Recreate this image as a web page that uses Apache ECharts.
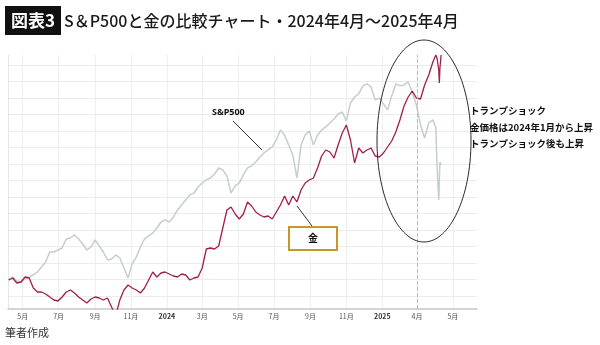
<!DOCTYPE html>
<html><head><meta charset="utf-8">
<script src="https://cdn.jsdelivr.net/npm/echarts@6/dist/echarts.min.js"></script>
<style>html,body{margin:0;padding:0;background:#fff}#c{width:600px;height:345px}</style>
</head><body><div id="c"></div>
<script>
const dates = [
'2023-04-07','2023-04-14','2023-04-21','2023-04-28','2023-05-05','2023-05-12','2023-05-19','2023-05-26','2023-06-02','2023-06-09',
'2023-06-16','2023-06-23','2023-06-30','2023-07-07','2023-07-14','2023-07-21','2023-07-28','2023-08-04','2023-08-11','2023-08-18',
'2023-08-25','2023-09-01','2023-09-08','2023-09-15','2023-09-22','2023-09-29','2023-10-06','2023-10-13','2023-10-20','2023-10-27',
'2023-11-03','2023-11-10','2023-11-17','2023-11-24','2023-12-01','2023-12-08','2023-12-15','2023-12-22','2023-12-29',
'2024-01-05','2024-01-12','2024-01-19','2024-01-26','2024-02-02','2024-02-09','2024-02-16','2024-02-23','2024-03-01','2024-03-08',
'2024-03-15','2024-03-22','2024-03-29','2024-04-05','2024-04-12','2024-04-19','2024-04-26','2024-05-03','2024-05-10','2024-05-17',
'2024-05-24','2024-05-31','2024-06-07','2024-06-14','2024-06-21','2024-06-28','2024-07-05','2024-07-12','2024-07-19','2024-07-26',
'2024-08-02','2024-08-09','2024-08-16','2024-08-23','2024-08-30','2024-09-06','2024-09-13','2024-09-20','2024-09-27','2024-10-04',
'2024-10-11','2024-10-18','2024-10-25','2024-11-01','2024-11-08','2024-11-15','2024-11-22','2024-11-29','2024-12-06','2024-12-13',
'2024-12-20','2024-12-27',
'2025-01-03','2025-01-10','2025-01-17','2025-01-24','2025-01-31','2025-02-07','2025-02-14','2025-02-21','2025-02-28','2025-03-07',
'2025-03-14','2025-03-21','2025-03-28','2025-04-02','2025-04-04','2025-04-07','2025-04-08','2025-04-09','2025-04-11'
];
const sp500 = [
4096,4126,4086,4075,4106,4126,4147,4177,4228,4279,
4381,4381,4402,4422,4514,4524,4555,4514,4463,4402,
4432,4504,4443,4381,4300,4310,4351,4320,4218,4116,
4259,4330,4432,4514,4545,4575,4626,4687,4708,4687,
4738,4810,4861,4912,4963,4983,5044,5085,5116,5136,
5177,5238,5218,5157,4983,5055,5085,5167,5238,5259,
5299,5350,5391,5422,5452,5524,5626,5575,5473,5371,
5136,5473,5575,5616,5473,5575,5626,5656,5697,5738,
5789,5809,5718,5901,5962,5993,6075,6095,6064,5932,
5952,5891,5830,5973,6095,6075,6085,6115,6013,5881,
5677,5544,5697,5728,5656,5269,4912,5116,5299,5269
];
const gold = [
1974,1986,1956,1962,1992,1986,1926,1902,1902,1890,
1872,1854,1848,1872,1902,1914,1896,1872,1854,1836,
1860,1872,1866,1854,1866,1812,1758,1854,1914,1944,
1926,1914,1896,1926,1974,2022,1992,2016,2022,2010,
1998,1992,2010,2004,1974,1986,1992,2046,2160,2166,
2160,2178,2286,2394,2412,2370,2340,2370,2442,2418,
2382,2364,2352,2358,2340,2382,2424,2478,2424,2478,
2442,2514,2556,2574,2586,2646,2718,2754,2742,2706,
2784,2856,2904,2814,2676,2766,2736,2754,2766,2718,
2712,2736,2772,2808,2862,2934,3018,3072,3108,3066,
3060,3144,3204,3282,3324,3306,3234,3156,3246,3324
];
const tickDates = ['2023-05-01','2023-07-01','2023-09-01','2023-11-01','2024-01-01','2024-03-01','2024-05-01','2024-07-01','2024-09-01','2024-11-01','2025-01-01','2025-03-01','2025-05-01'];
const tickLabels = ['5月','7月','9月','11月','2024','3月','5月','7月','9月','11月','2025','4月','5月'];
const markerDate = '2025-03-01';

function ts(s){const p=s.split('-').map(Number);return Date.UTC(p[0],p[1]-1,p[2]);}
const tickTs = tickDates.map(ts);
const spData = dates.map((d,i)=>[ts(d), sp500[i]]);
const goldData = dates.map((d,i)=>[ts(d), gold[i]]);
const JP = '"Noto Sans CJK JP","Noto Sans",sans-serif';

const chart = echarts.init(document.getElementById('c'), null, {renderer:'canvas'});
chart.setOption({
  animation:false,
  backgroundColor:'#fff',
  grid:[{left:8,right:123,top:55,bottom:36},{left:8,right:123,top:65,bottom:49}],
  xAxis:[
    {type:'value', gridIndex:0, min:ts('2023-04-06'), max:ts('2025-06-11'),
     axisLine:{onZero:false, lineStyle:{color:'#c6c6c6', width:1.5}},
     axisTick:{show:false, customValues:tickTs},
     axisLabel:{customValues:tickTs, fontSize:7, color:'#555', margin:4, fontFamily:JP,
       formatter:function(v){const i=tickTs.indexOf(+v); const l=i>=0?tickLabels[i]:''; return /^\d{4}$/.test(l)?'{b|'+l+'}':l;},
       rich:{b:{fontWeight:'bold',fontSize:7,color:'#333',fontFamily:JP}}},
     splitLine:{show:true, lineStyle:{color:'#efefef', width:1}}},
    {type:'value', gridIndex:1, min:0, max:1, show:false}
  ],
  yAxis:[
    {type:'value', gridIndex:0, min:3800, max:6390,
     axisLine:{show:true, lineStyle:{color:'#e6e6e6'}}, axisTick:{show:false}, axisLabel:{show:false}, splitLine:{show:false}},
    {type:'value', gridIndex:0, min:1800, max:3324, show:false},
    {type:'value', gridIndex:1, min:0, max:14, interval:1,
     axisLine:{show:false}, axisTick:{show:false}, axisLabel:{show:false},
     splitLine:{show:true, lineStyle:{color:'#ececec', width:1}}}
  ],
  series:[
    {type:'line', xAxisIndex:0, yAxisIndex:0, data:spData, symbol:'none', silent:true,
     lineStyle:{color:'#c6cecb', width:1.5},
     markLine:{silent:true, symbol:'none', label:{show:false},
       lineStyle:{type:'dashed', color:'#bdbdbd', width:1},
       data:[{xAxis:ts(markerDate)}]}},
    {type:'line', xAxisIndex:0, yAxisIndex:1, data:goldData, symbol:'none', silent:true,
     lineStyle:{color:'#a31e4b', width:1.3}}
  ],
  graphic:[
    {type:'rect', shape:{x:5,y:6,width:56,height:29}, style:{fill:'#111'}},
    {type:'text', x:33, y:21, style:{text:'図表3', fill:'#fff', font:'bold 17px '+JP, align:'center', verticalAlign:'middle'}},
    {type:'text', x:64, y:21, style:{text:'S＆P500と金の比較チャート・2024年4月～2025年4月', fill:'#1a1a1a', font:'500 16px '+JP, verticalAlign:'middle'}},
    {type:'ellipse', shape:{cx:424,cy:141,rx:47,ry:101}, style:{fill:'none', stroke:'#2a2a2a', lineWidth:1}, z:10},
    {type:'text', x:212, y:112, style:{text:'S&P500', fill:'#111', font:'bold 9px "Noto Sans",sans-serif', verticalAlign:'middle'}, z:10},
    {type:'line', shape:{x1:233,y1:121,x2:262,y2:150}, style:{stroke:'#333', lineWidth:1}, z:10},
    {type:'line', shape:{x1:312,y1:226,x2:297,y2:206}, style:{stroke:'#333', lineWidth:1}, z:10},
    {type:'rect', shape:{x:289,y:227,width:48,height:23}, style:{fill:'#fff', stroke:'#c9962a', lineWidth:2}, z:10},
    {type:'text', x:313, y:238.5, style:{text:'金', fill:'#111', font:'bold 10px '+JP, align:'center', verticalAlign:'middle'}, z:11},
    {type:'text', x:470, y:110, style:{text:'トランプショック', fill:'#111', font:'bold 9.5px '+JP, verticalAlign:'middle'}, z:10},
    {type:'text', x:470, y:127, style:{text:'金価格は2024年1月から上昇', fill:'#111', font:'bold 9.5px '+JP, verticalAlign:'middle'}, z:10},
    {type:'text', x:470, y:143, style:{text:'トランプショック後も上昇', fill:'#111', font:'bold 9.5px '+JP, verticalAlign:'middle'}, z:10},
    {type:'text', x:5, y:333, style:{text:'筆者作成', fill:'#333', font:'11px '+JP, verticalAlign:'middle'}}
  ]
});
</script></body></html>
